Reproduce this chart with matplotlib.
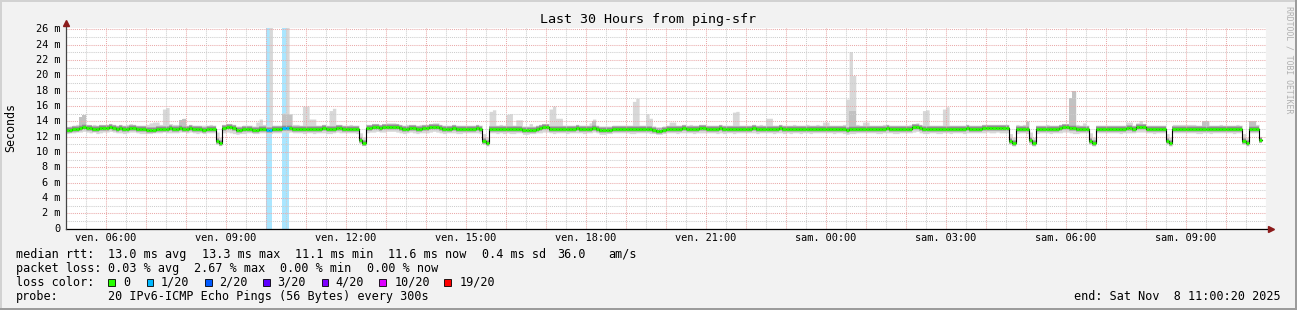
import numpy as np
import matplotlib
matplotlib.use("Agg")
import matplotlib.pyplot as plt
from matplotlib.patches import Rectangle
from matplotlib.lines import Line2D

nan = float("nan")

# ---------------- data (5-minute steps, Fri 05:00 -> Sat 11:00) ----------------
first_step_hour = 5.0          # hours since Friday 00:00
step_hours = 5 / 60
view_start = 5 + 20 / 3600     # 05:00:20
view_hours = 30

median = [
    12.9,12.9,13.0,13.0,13.1,13.2,13.1,13.1,13.0,13.0,13.1,13.1,
    13.1,13.2,13.1,13.0,13.1,13.0,13.0,13.1,13.1,13.0,13.0,13.0,
    12.9,12.9,12.9,13.0,13.0,13.0,13.0,13.1,13.0,13.0,13.1,13.0,
    13.0,13.1,13.0,13.0,13.0,12.9,13.0,13.0,13.0,11.5,11.2,13.1,
    13.2,13.2,13.1,12.9,12.9,13.0,13.0,13.0,12.9,12.9,13.0,13.0,
    12.9,12.9,13.0,13.0,13.0,13.1,13.1,13.1,13.0,13.0,13.0,13.0,
    13.0,13.0,13.0,13.0,13.0,13.1,13.0,13.0,13.0,13.1,13.1,13.0,
    13.0,13.0,13.0,13.0,11.6,11.2,13.1,13.1,13.2,13.2,13.1,13.2,
    13.3,13.3,13.3,13.2,13.1,13.0,13.0,13.1,13.1,13.0,13.0,13.1,
    13.1,13.2,13.3,13.3,13.1,13.0,13.0,13.0,13.1,13.0,13.0,13.0,
    13.0,13.0,13.0,13.1,13.0,11.5,11.2,13.0,13.0,13.0,13.0,13.0,
    13.0,13.0,13.0,13.0,13.0,12.9,12.9,12.9,12.9,13.0,13.1,13.2,
    13.2,13.0,13.0,13.0,13.0,13.0,13.0,13.0,13.0,13.1,13.0,13.0,
    13.0,13.0,13.1,13.0,12.9,12.9,12.9,12.9,13.0,13.0,13.0,13.0,
    13.0,13.0,13.0,13.0,13.0,13.0,13.0,13.0,12.9,12.8,12.8,12.9,
    13.0,13.0,13.0,13.0,13.0,13.1,13.0,13.0,13.0,13.0,13.1,13.1,
    13.0,13.0,13.0,13.0,13.1,13.0,13.0,13.0,13.0,13.0,13.0,13.0,
    13.0,13.0,13.1,13.0,13.0,13.0,13.0,13.0,13.0,13.0,13.1,13.0,
    13.0,13.0,13.0,13.0,13.0,13.0,13.0,13.0,13.0,13.0,13.0,13.0,
    13.0,13.0,13.0,13.0,13.0,13.0,12.9,13.0,13.0,13.0,13.0,13.0,
    13.0,13.0,13.0,13.0,13.0,13.0,13.1,13.0,13.0,13.0,13.0,13.0,
    13.0,13.0,13.2,13.3,13.1,13.0,13.0,13.0,13.0,13.0,13.0,13.0,
    13.0,13.0,13.0,13.0,13.0,13.0,13.1,13.0,13.0,13.0,13.0,13.1,
    13.1,13.1,13.1,13.1,13.1,13.1,13.1,11.5,11.2,13.0,13.0,13.0,
    13.0,11.6,11.2,13.0,13.0,13.0,13.0,13.0,13.0,13.0,13.1,13.2,
    13.2,13.1,13.1,13.0,13.0,13.0,13.0,11.5,11.2,13.0,13.0,13.0,
    13.0,13.0,13.0,13.0,13.0,13.0,13.1,13.1,13.0,13.2,13.3,13.2,
    13.0,13.0,13.0,13.0,13.0,13.0,11.5,11.2,13.0,13.0,13.0,13.0,
    13.0,13.0,13.0,13.0,13.0,13.0,13.0,13.0,13.0,13.0,13.0,13.0,
    13.0,13.0,13.0,13.0,13.0,11.5,11.2,13.0,13.0,13.0,11.6,nan,
]

smoke_max = [
    13.3,13.4,13.5,13.6,14.6,14.9,13.6,13.5,13.6,13.5,13.6,13.5,
    13.6,13.7,13.6,13.5,13.6,13.5,13.6,13.7,13.6,13.5,13.5,13.5,
    13.6,13.8,13.9,13.9,13.6,15.6,15.8,13.7,13.6,13.6,14.2,14.4,
    13.5,13.6,13.5,13.5,13.5,13.5,13.5,13.6,13.5,12.6,11.9,13.6,
    13.7,13.7,13.6,13.4,13.4,13.5,13.5,13.5,13.4,13.9,14.3,13.6,
    13.4,27.0,13.5,13.5,13.5,15.1,27.0,15.0,13.6,13.6,13.5,16.0,
    16.0,14.3,14.3,13.5,13.5,13.6,13.5,15.4,15.7,13.6,13.6,13.5,
    13.5,13.6,13.5,13.5,12.5,11.9,13.6,13.6,13.7,13.7,13.6,13.7,
    13.8,13.8,13.8,13.7,13.6,13.5,13.6,13.6,13.6,13.5,13.6,13.6,
    13.6,13.7,13.8,13.8,13.6,13.5,13.5,13.5,13.6,13.5,13.5,13.5,
    13.5,13.5,13.5,13.6,13.5,12.4,11.9,15.3,15.5,13.5,13.6,13.5,
    14.9,15.0,13.5,14.2,14.2,13.4,13.4,13.7,13.4,13.5,13.6,13.7,
    13.7,15.6,16.0,14.4,14.4,13.5,13.5,13.5,13.5,13.6,13.5,13.5,
    13.5,13.8,14.3,13.5,13.4,13.4,13.4,13.4,13.5,13.5,13.5,13.5,
    13.5,13.5,16.6,17.0,13.5,13.5,15.0,14.4,13.4,13.3,13.3,13.4,
    13.5,13.9,13.9,13.5,13.5,13.6,13.5,13.6,13.5,13.5,13.6,13.6,
    13.5,13.5,13.5,13.5,13.6,13.5,13.5,13.5,15.2,15.3,13.5,13.5,
    13.5,13.5,13.6,13.5,13.6,13.5,14.4,14.4,13.5,13.5,13.6,13.5,
    13.5,13.5,13.6,13.5,13.5,13.5,13.6,13.5,13.5,13.6,13.5,13.9,
    13.9,13.5,13.5,13.5,13.5,13.6,16.9,23.1,20.0,13.6,13.5,13.9,
    13.9,13.5,13.5,13.5,13.5,13.6,13.6,13.5,13.5,13.5,13.5,13.5,
    13.5,13.6,13.7,13.8,13.6,15.4,15.5,13.5,13.5,13.5,13.5,15.6,
    15.9,13.5,13.5,13.5,13.5,13.5,13.6,13.5,13.5,13.5,13.5,13.6,
    13.6,13.6,13.6,13.6,13.6,13.6,13.6,12.4,11.9,13.6,13.5,13.6,
    14.1,12.6,11.9,13.5,13.5,13.5,13.6,13.5,13.5,13.5,13.6,13.7,
    13.7,17.1,18.0,13.6,13.5,13.8,13.5,12.5,11.9,13.5,13.5,13.5,
    13.5,13.5,13.5,13.5,13.5,13.5,13.9,13.9,13.5,13.8,14.1,13.7,
    13.5,13.5,13.5,13.5,13.5,13.5,12.4,11.9,13.6,13.6,13.6,13.6,
    13.6,13.6,13.6,13.5,13.5,14.1,14.1,13.5,13.5,13.5,13.6,13.5,
    13.5,13.5,13.5,13.6,13.5,12.4,11.9,14.1,14.0,13.6,12.2,nan,
]

smoke_min = [
    12.4,12.5,12.5,12.6,12.6,12.7,12.6,12.5,12.6,12.4,12.5,12.6,
    12.6,12.7,12.6,12.5,12.5,12.4,12.5,12.6,12.6,12.5,12.4,12.4,
    12.4,12.4,12.5,12.5,12.5,12.6,12.5,12.5,12.5,12.5,12.6,12.6,
    12.5,12.6,12.5,12.4,12.5,12.4,12.5,12.5,12.5,11.0,10.9,12.5,
    12.6,12.5,12.4,12.3,12.4,12.4,12.5,12.5,12.4,12.4,12.5,12.5,
    12.4,12.4,12.5,12.5,12.5,12.6,12.5,12.6,12.5,12.5,12.5,12.4,
    12.5,12.5,12.4,12.5,12.5,12.5,12.4,12.4,12.5,12.6,12.5,12.5,
    12.5,12.5,12.5,12.4,11.1,10.9,12.5,12.6,12.6,12.7,12.6,12.6,
    12.7,12.7,12.7,12.6,12.5,12.4,12.5,12.6,12.5,12.4,12.5,12.5,
    12.5,12.6,12.7,12.6,12.5,12.4,12.5,12.5,12.5,12.4,12.4,12.5,
    12.5,12.5,12.5,12.5,12.4,11.0,10.8,12.5,12.5,12.4,12.5,12.4,
    12.5,12.4,12.4,12.5,12.5,12.3,12.3,12.4,12.4,12.5,12.5,12.6,
    12.6,12.5,12.4,12.5,12.5,12.5,12.4,12.5,12.5,12.5,12.5,12.4,
    12.5,12.5,12.6,12.5,12.3,12.3,12.4,12.4,12.5,12.5,12.5,12.5,
    12.5,12.4,12.4,12.5,12.5,12.5,12.5,12.4,12.4,12.3,12.3,12.4,
    12.5,12.5,12.5,12.4,12.5,12.5,12.5,12.5,12.4,12.5,12.5,12.5,
    12.5,12.5,12.5,12.4,12.5,12.4,12.5,12.5,12.4,12.5,12.5,12.5,
    12.5,12.5,12.5,12.4,12.5,12.5,12.5,12.5,12.4,12.5,12.5,12.4,
    12.5,12.4,12.5,12.5,12.4,12.5,12.5,12.4,12.5,12.5,12.5,12.5,
    12.5,12.5,12.4,12.5,12.5,12.4,12.3,12.4,12.4,12.5,12.5,12.5,
    12.5,12.5,12.5,12.4,12.4,12.5,12.5,12.5,12.4,12.4,12.5,12.5,
    12.5,12.5,12.6,12.7,12.5,12.4,12.4,12.5,12.5,12.4,12.4,12.5,
    12.5,12.4,12.5,12.5,12.5,12.4,12.5,12.5,12.5,12.5,12.5,12.5,
    12.6,12.5,12.5,12.6,12.5,12.5,12.5,11.0,10.8,12.4,12.5,12.5,
    12.4,11.0,10.8,12.4,12.5,12.5,12.5,12.4,12.5,12.5,12.5,12.6,
    12.6,12.5,12.4,12.4,12.5,12.5,12.5,11.0,10.8,12.5,12.5,12.5,
    12.5,12.5,12.5,12.5,12.4,12.5,12.5,12.5,12.5,12.6,12.6,12.6,
    12.5,12.5,12.4,12.5,12.5,12.5,11.0,10.8,12.5,12.5,12.5,12.5,
    12.5,12.5,12.5,12.4,12.4,12.5,12.5,12.4,12.5,12.5,12.5,12.5,
    12.5,12.5,12.4,12.5,12.5,11.0,10.8,12.5,12.5,12.5,11.2,nan,
]

# denser (mid-grey) smoke reaching above the median on some steps
mid_steps = [4, 5, 34, 35, 65, 66, 67, 158, 235, 236, 288, 301, 302, 341, 342, 355, 356]
mid_top = [14.5, 14.8, 14.2, 14.3, 15.0, 15.0, 14.8, 14.0, 15.4, 15.4, 13.9, 17.1, 17.9, 14.1, 14.1, 14.1, 14.0]

# packet loss (pings lost out of 20)
loss_steps = [60, 61, 65, 66]
loss_pings = [1, 1, 1, 1]

loss_thresholds = [0, 1, 2, 3, 4, 10, 19]
loss_labels = ["0", "1/20", "2/20", "3/20", "4/20", "10/20", "19/20"]
loss_colors = ["#26ff00", "#00b8ff", "#0059ff", "#5e00ff", "#7e00ff", "#dd00ff", "#ff0000"]
loss_bar_colors = ["#ffffff", "#aae6ff", "#a6c4ff", "#c6a6ff", "#d2a6ff", "#f2a6ff", "#ffa6a6"]

y_ticks = [0, 2, 4, 6, 8, 10, 12, 14, 16, 18, 20, 22, 24, 26]
y_tick_labels = ["0", "2 m", "4 m", "6 m", "8 m", "10 m", "12 m", "14 m",
                 "16 m", "18 m", "20 m", "22 m", "24 m", "26 m"]
x_tick_hours = [6, 9, 12, 15, 18, 21, 24, 27, 30, 33]
x_tick_labels = ["ven. 06:00", "ven. 09:00", "ven. 12:00", "ven. 15:00", "ven. 18:00",
                 "ven. 21:00", "sam. 00:00", "sam. 03:00", "sam. 06:00", "sam. 09:00"]

title = "Last 30 Hours from ping-sfr"
rtt_label = "median rtt:"
rtt_items = ["13.0 ms avg", "13.3 ms max", "11.1 ms min", "11.6 ms now", "0.4 ms sd", "36.0", "am/s"]
loss_label = "packet loss:"
loss_items = ["0.03 % avg", "2.67 % max", "0.00 % min", "0.00 % now"]
probe_text = "20 IPv6-ICMP Echo Pings (56 Bytes) every 300s"
end_text = "end: Sat Nov  8 11:00:20 2025"

# ---------------- figure ----------------
W, H = 1297, 310
MONO = "DejaVu Sans Mono"
fig = plt.figure(figsize=(W / 100, H / 100), dpi=100)
fig.patch.set_facecolor("#f2f2f2")

L, R, T, B = 66, 1266, 28, 228.7
ax = fig.add_axes([L / W, 1 - B / H, (R - L) / W, (B - T) / H])
ax.set_facecolor("white")
for s in ax.spines.values():
    s.set_visible(False)
ax.set_xlim(view_start, view_start + view_hours)
ax.set_ylim(0, 26.17)

med = np.array(median, float)
mx = np.array(smoke_max, float)
mn = np.array(smoke_min, float)
n = len(med)
edges = first_step_hour + np.arange(n + 1) * step_hours


def pad(a):
    return np.append(a, a[-1])


loss_n = np.zeros(n, int)
loss_n[loss_steps] = loss_pings
loss_idx = np.searchsorted(loss_thresholds, loss_n, side="right") - 1

# loss bars (background)
for s in loss_steps:
    ax.axvspan(edges[s], edges[s + 1], color=loss_bar_colors[loss_idx[s]], lw=0, zorder=1)

# smoke
ax.fill_between(edges, pad(mn), pad(mx), step="post", color="#d8d8d8", lw=0, zorder=2)
ms = np.array(mid_steps)
ax.bar(edges[ms], np.array(mid_top) - med[ms], bottom=med[ms], width=step_hours,
       align="edge", color="#c2c2c2", lw=0, zorder=2.1)
valid = ~np.isnan(med)
ax.hlines(med[valid], edges[:-1][valid], edges[1:][valid], colors="#b2b2b2",
          lw=4.4, zorder=2.2, capstyle="butt")
ax.hlines(med[valid], edges[:-1][valid], edges[1:][valid], colors="#8e8e8e",
          lw=2.9, zorder=2.3, capstyle="butt")

# grid (drawn above smoke, like rrdtool)
ax.set_xticks(np.arange(6, 36, 1))
ax.set_xticks(np.arange(5.5, 35.5, 1), minor=True)
ax.set_yticks(y_ticks)
ax.set_yticks(np.arange(1, 27, 2), minor=True)
ax.grid(which="major", color="#eaaaaa", linestyle=(0, (1, 1)), linewidth=0.75)
ax.grid(which="minor", color="#cdcdcd", linestyle=(0, (1, 1)), linewidth=0.75)
ax.set_axisbelow(False)
ax.tick_params(which="both", length=0, labelbottom=False, labelleft=False)

# median line and loss-coloured median band
ax.step(edges, pad(med), where="post", color="black", lw=0.8, zorder=4)
seg_cols = [loss_colors[k] for k in loss_idx[valid]]
ax.hlines(med[valid], edges[:-1][valid], edges[1:][valid], colors=seg_cols,
          lw=2.0, zorder=5, capstyle="butt")

# axes lines and arrows
xw, yh = R - L, B - T
ax.add_line(Line2D([0, (1269 - L) / xw], [0, 0], transform=ax.transAxes,
                   color="black", lw=0.9, clip_on=False, zorder=6))
ax.add_line(Line2D([0, 0], [0, (B - 24) / yh], transform=ax.transAxes,
                   color="#444444", lw=0.9, clip_on=False, zorder=6))
ax.plot([(1270.5 - L) / xw], [0], marker=">", ms=4.5, color="#8b1a1a",
        transform=ax.transAxes, clip_on=False, zorder=7)
ax.plot([0], [(B - 23) / yh], marker="^", ms=4.5, color="#8b1a1a",
        transform=ax.transAxes, clip_on=False, zorder=7)

# tick labels
for h, lab in zip(x_tick_hours, x_tick_labels):
    ax.text(h, -(238.3 - B) / yh, lab, transform=ax.get_xaxis_transform(),
            ha="center", va="center", fontsize=7.4, family=MONO, color="black")
for v, lab in zip(y_ticks, y_tick_labels):
    ax.text(-(L - 60.5) / xw, v, lab, transform=ax.get_yaxis_transform(),
            ha="right", va="center", fontsize=7.4, family=MONO, color="black")


def px(x, y):
    return x / W, 1 - y / H


fig.text(*px(648.5, 19), title, ha="center", va="center", fontsize=9.6, family=MONO)
fig.text(*px(11, 127.5), "Seconds", rotation=90, ha="center", va="center",
         fontsize=8.4, family=MONO)
fig.text(*px(1288.5, 60), "RRDTOOL / TOBI OETIKER", rotation=270, ha="center",
         va="center", fontsize=5.9, family=MONO, color="#b0b0b0")

FS = 8.5
fig.text(*px(15.8, 254.3), rtt_label, ha="left", va="center", fontsize=FS, family=MONO)
for xx, t in zip([107.5, 201.7, 295, 388.3, 481.7, 557.5, 608.3], rtt_items):
    fig.text(*px(xx, 254.3), t, ha="left", va="center", fontsize=FS, family=MONO)
fig.text(*px(15.8, 268.3), loss_label, ha="left", va="center", fontsize=FS, family=MONO)
for xx, t in zip([107.5, 194.2, 280, 366.7], loss_items):
    fig.text(*px(xx, 268.3), t, ha="left", va="center", fontsize=FS, family=MONO)
fig.text(*px(15.8, 282.3), "loss color:", ha="left", va="center", fontsize=FS, family=MONO)
sq_x = [108.3, 146.7, 205, 263.3, 321.7, 379.2, 444.2]
lab_x = [123.3, 160.8, 219.2, 277.5, 335.8, 394.2, 460]
for sx, lx, lab, c in zip(sq_x, lab_x, loss_labels, loss_colors):
    fig.add_artist(Rectangle((sx / W, 1 - 286.3 / H), 6.7 / W, 7.3 / H,
                             transform=fig.transFigure, facecolor=c,
                             edgecolor="black", lw=0.6))
    fig.text(*px(lx, 282.3), lab, ha="left", va="center", fontsize=FS, family=MONO)
fig.text(*px(15.8, 296.3), "probe:", ha="left", va="center", fontsize=FS, family=MONO)
fig.text(*px(107.5, 296.3), probe_text, ha="left", va="center", fontsize=FS, family=MONO)
fig.text(*px(1281, 296.3), end_text, ha="right", va="center", fontsize=FS, family=MONO)

# 3D frame
fig.add_artist(Line2D([0, 1], [1 - 1 / H, 1 - 1 / H], transform=fig.transFigure, color="#d2d2d2", lw=1.44))
fig.add_artist(Line2D([1 / W, 1 / W], [0, 1], transform=fig.transFigure, color="#d2d2d2", lw=1.44))
fig.add_artist(Line2D([0, 1], [1 / H, 1 / H], transform=fig.transFigure, color="#9c9c9c", lw=1.44))
fig.add_artist(Line2D([1 - 1 / W, 1 - 1 / W], [0, 1], transform=fig.transFigure, color="#9c9c9c", lw=1.44))

fig.savefig("out.png", dpi=100, facecolor=fig.get_facecolor())
